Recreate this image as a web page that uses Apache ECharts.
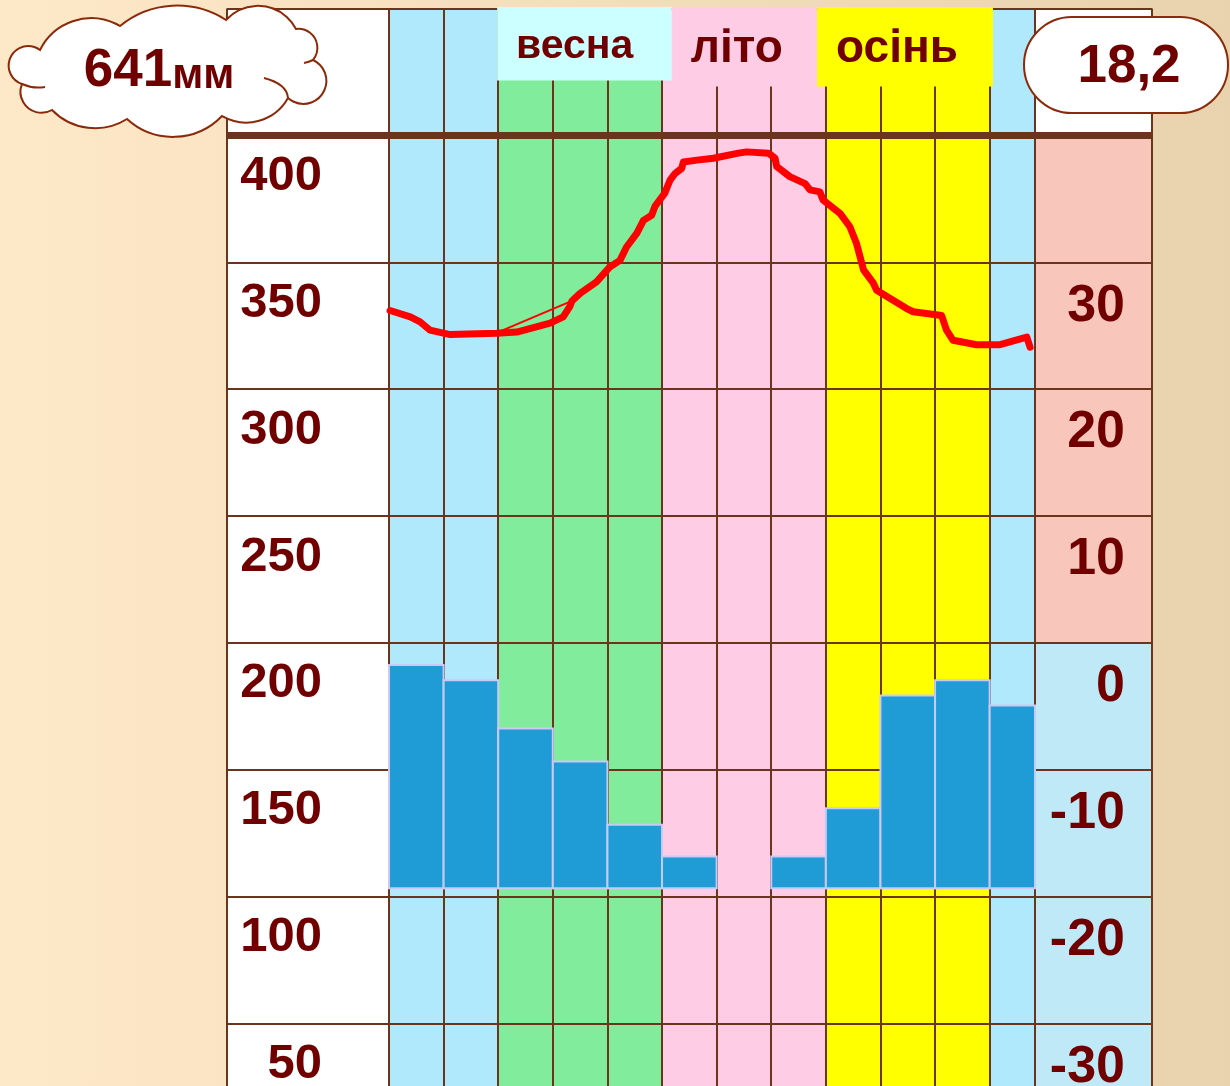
<!DOCTYPE html>
<html>
<head>
<meta charset="utf-8">
<script src="https://cdn.jsdelivr.net/npm/echarts@6/dist/echarts.min.js"></script>
<style>
html, body { margin: 0; padding: 0; }
#chart { width: 1230px; height: 1086px; }
</style>
</head>
<body>
<div id="chart"></div>
<script>
// ---- data ----
var months = ['січ', 'лют', 'бер', 'кві', 'тра', 'чер', 'лип', 'сер', 'вер', 'жов', 'лис', 'гру'];
// monthly precipitation, mm (bars)
var precipitation = [88, 82, 63, 50, 25, 12.5, 0, 12.5, 31.5, 76, 82, 72];
// hand drawn temperature curve: [position in months, degrees]
var tempCurve = [
    [0.02, 26.2], [0.39, 25.7], [0.57, 25.3], [0.75, 24.65], [1.12, 24.3],
    [1.97, 24.4], [2.34, 24.5], [2.95, 25.2], [3.19, 25.7], [3.31, 26.5],
    [3.35, 26.95], [3.5, 27.55], [3.8, 28.45], [4.05, 29.65], [4.23, 30.15],
    [4.35, 31.2], [4.54, 32.3], [4.66, 33.3], [4.81, 33.7], [4.87, 34.4],
    [5.05, 35.45], [5.15, 36.5], [5.24, 37.0], [5.36, 37.4], [5.39, 37.9],
    [5.64, 38.05], [5.94, 38.2], [6.4, 38.6], [6.55, 38.7], [6.95, 38.6],
    [7.07, 38.2], [7.1, 37.55], [7.34, 36.75], [7.62, 36.2], [7.71, 35.7],
    [7.89, 35.55], [7.95, 34.9], [8.26, 33.85], [8.44, 32.8], [8.56, 31.5],
    [8.69, 29.4], [8.87, 28.35], [8.93, 27.8], [9.48, 26.35], [9.6, 26.1],
    [10.12, 25.8], [10.21, 24.65], [10.33, 23.85], [10.76, 23.5], [11.19, 23.5],
    [11.68, 24.1], [11.74, 23.3]
];
var tempChord = [[1.98, 24.45], [3.35, 26.95]];
var precipLabels = [400, 350, 300, 250, 200, 150, 100, 50];
var tempLabels = [30, 20, 10, 0, -10, -20, -30];
var headerLine = 400;
var seasons = ['весна', 'літо', 'осінь'];
var seasonFrom = [1.98, 5.18, 7.84];
var seasonTo = [5.18, 7.84, 11.06];
var annualPrecip = '641';
var annualUnit = 'мм';
var annualTemp = '18,2';

// ---- styles ----
var BROWN = '#6b341c';
var TEXT = '#700000';
var FONT = '"Liberation Sans", Arial, sans-serif';
var MONTH_MAX = 11.83; // december column is narrower
var monthColors = ['#b0e9fc', '#b0e9fc', '#80ec9c', '#80ec9c', '#80ec9c', '#ffcce6',
    '#ffcce6', '#ffcce6', '#ffff00', '#ffff00', '#ffff00', '#b0e9fc'];
var rightColors = ['#bfe9f6', '#bfe9f6', '#bfe9f6', '#bfe9f6', '#f9c6bc', '#f9c6bc',
    '#f9c6bc', '#f9c6bc', '#ffffff'];
var seasonColors = ['#ccffff', '#ffcce6', '#ffff00'];
var seasonBoxH = [72, 78, 78];
var seasonFont = [41, 46, 46];

var CLOUD = 'M40 50 A57 57 0 0 1 120 26 A90 90 0 0 1 226 20 A43 43 0 0 1 296 29 ' +
    'A19 19 0 0 1 313 60 A23 23 0 1 1 288 98 A48 48 0 0 1 222 116 ' +
    'A68 68 0 0 1 127 119 A60 60 0 0 1 52 110 A21 21 0 0 1 22 84 ' +
    'A19.5 19.5 0 1 1 40 50 Z';
var CREASES = 'M22 84 Q33 89 45 87 M264 78 Q287 84 288 98 M313 60 Q309 62 304 63';

// table rows run past the bottom of the picture
var TOP = 8.5, HEIGHT = 1141.9;

function hiddenAxis(grid, extra) {
    return Object.assign({ gridIndex: grid, type: 'value', show: false }, extra || {});
}

function makeGrid(left, width, top, height, extra) {
    return Object.assign({
        left: left, width: width, top: top, height: height,
        outerBoundsMode: 'none', containLabel: false
    }, extra || {});
}

function renderSeason(params, api) {
    var i = params.dataIndex;
    var p0 = api.coord([api.value(0), 50]);
    var p1 = api.coord([api.value(1), 50]);
    var h = seasonBoxH[i];
    var fs = seasonFont[i];
    return {
        type: 'group',
        children: [{
            type: 'rect',
            shape: { x: p0[0], y: p0[1] - 1.5, width: p1[0] - p0[0], height: h + 1.5 },
            style: { fill: seasonColors[i] }
        }, {
            type: 'text',
            style: {
                text: seasons[i], x: p0[0] + 19, y: p0[1] + h * 0.5 + 2,
                fill: TEXT, font: 'bold ' + fs + 'px ' + FONT,
                align: 'left', verticalAlign: 'middle'
            }
        }]
    };
}

function renderBar(params, api) {
    var i = api.value(0);
    var v = api.value(1);
    if (!v) return null;
    var p0 = api.coord([i, 0]);
    var p1 = api.coord([Math.min(i + 1, MONTH_MAX), v]);
    return {
        type: 'rect',
        shape: { x: p0[0], y: p1[1], width: p1[0] - p0[0], height: p0[1] - p1[1] },
        style: { fill: '#1f9bd5', stroke: '#c9c9f3', lineWidth: 2 }
    };
}

function renderCloud(params, api) {
    return {
        type: 'group',
        children: [{
            type: 'path', shape: { pathData: CLOUD },
            style: { fill: '#ffffff', stroke: '#8b2a0a', lineWidth: 2 }
        }, {
            type: 'path', shape: { pathData: CREASES },
            style: { fill: 'none', stroke: '#8b2a0a', lineWidth: 2 }
        }]
    };
}

var chart = echarts.init(document.getElementById('chart'));
chart.setOption({
    animation: false,
    backgroundColor: {
        type: 'linear', x: 0, y: 0, x2: 1, y2: 0,
        colorStops: [{ offset: 0, color: '#fde8c8' }, { offset: 1, color: '#e9d2ae' }]
    },
    grid: [
        makeGrid(227, 925, TOP, HEIGHT),
        makeGrid(227, 162, TOP, HEIGHT, { show: true, backgroundColor: '#ffffff', borderWidth: 0 }),
        makeGrid(389, 646, TOP, HEIGHT),
        makeGrid(1035, 117, TOP, HEIGHT),
        makeGrid(389, 646, 127, 761.3)
    ],
    xAxis: [
        {
            gridIndex: 0, type: 'value', min: 0, max: 1, interval: 1, z: 1,
            axisLine: { show: false }, axisTick: { show: false }, axisLabel: { show: false },
            splitLine: { show: true, lineStyle: { color: BROWN, width: 2 } }
        },
        hiddenAxis(1, { min: 0, max: 1 }),
        {
            gridIndex: 2, type: 'value', min: 0, max: MONTH_MAX, interval: 1, z: 0,
            axisLine: { show: false }, axisTick: { show: false }, axisLabel: { show: false },
            splitArea: { show: true, areaStyle: { color: monthColors, opacity: 1 } },
            splitLine: { show: true, lineStyle: { color: BROWN, width: 2 } }
        },
        hiddenAxis(3, { min: 0, max: 1 }),
        hiddenAxis(4, { min: 0, max: MONTH_MAX })
    ],
    yAxis: [
        {
            gridIndex: 0, type: 'value', min: 0, max: 450, interval: 50, z: 1,
            axisLine: { show: false }, axisTick: { show: false }, axisLabel: { show: false },
            splitLine: { show: true, lineStyle: { color: BROWN, width: 2 } }
        },
        {
            gridIndex: 2, type: 'value', position: 'left', min: 0, max: 450, interval: 50, z: 2,
            axisLine: { show: false }, axisTick: { show: false }, splitLine: { show: false },
            axisLabel: {
                margin: 67, align: 'right', verticalAlign: 'top', lineHeight: 82,
                color: TEXT, fontSize: 49, fontWeight: 'bold', fontFamily: FONT,
                formatter: function (v) { return precipLabels.indexOf(v) >= 0 ? String(v) : ''; }
            }
        },
        {
            gridIndex: 2, type: 'value', position: 'right', min: -40, max: 50, interval: 10, z: 2,
            axisLine: { show: false }, axisTick: { show: false }, splitLine: { show: false },
            axisLabel: {
                margin: 90, align: 'right', verticalAlign: 'top', lineHeight: 88,
                color: TEXT, fontSize: 52, fontWeight: 'bold', fontFamily: FONT,
                formatter: function (v) { return tempLabels.indexOf(v) >= 0 ? String(v) : ''; }
            }
        },
        {
            gridIndex: 3, type: 'value', min: -40, max: 50, interval: 10, z: 0,
            axisLine: { show: false }, axisTick: { show: false }, axisLabel: { show: false },
            splitLine: { show: false },
            splitArea: { show: true, areaStyle: { color: rightColors, opacity: 1 } }
        },
        hiddenAxis(4, { min: 0, max: 300 }),
        hiddenAxis(1, { min: 0, max: 1 })
    ],
    series: [
        {
            name: 'header', type: 'line', xAxisIndex: 0, yAxisIndex: 0, z: 5, silent: true,
            symbol: 'none', data: [[0, headerLine], [1, headerLine]],
            lineStyle: { color: BROWN, width: 7 }
        },
        {
            name: 'seasons', type: 'custom', xAxisIndex: 2, yAxisIndex: 2, z: 3, silent: true,
            renderItem: renderSeason,
            data: seasons.map(function (s, i) { return [seasonFrom[i], seasonTo[i]]; })
        },
        {
            name: 'опади', type: 'custom', xAxisIndex: 4, yAxisIndex: 4, z: 4, silent: true,
            renderItem: renderBar,
            data: precipitation.map(function (v, i) { return [i, v]; })
        },
        {
            name: 'температура', type: 'line', xAxisIndex: 2, yAxisIndex: 2, z: 6, silent: true,
            symbol: 'none', data: tempCurve,
            lineStyle: { color: '#ff0000', width: 7, cap: 'round', join: 'round' }
        },
        {
            name: 'chord', type: 'line', xAxisIndex: 2, yAxisIndex: 2, z: 6, silent: true,
            symbol: 'none', data: tempChord,
            lineStyle: { color: '#ff0000', width: 2 }
        },
        {
            name: 'cloud', type: 'custom', coordinateSystem: 'none', z: 20, silent: true,
            renderItem: renderCloud, data: [0]
        }
    ],
    graphic: {
        elements: [
            {
                type: 'text', z: 22, x: 159, y: 71,
                style: {
                    text: '{n|' + annualPrecip + '}{u|' + annualUnit + '}',
                    align: 'center', verticalAlign: 'middle', fill: TEXT,
                    rich: {
                        n: { fontSize: 53, fontWeight: 'bold', fontFamily: FONT, fill: TEXT, lineHeight: 53, verticalAlign: 'bottom' },
                        u: { fontSize: 42, fontWeight: 'bold', fontFamily: FONT, fill: TEXT, lineHeight: 42, verticalAlign: 'bottom' }
                    }
                }
            },
            {
                type: 'rect', z: 20,
                shape: { x: 1024, y: 17, width: 204, height: 96, r: 48 },
                style: { fill: '#ffffff', stroke: '#8b2a0a', lineWidth: 2 }
            },
            {
                type: 'text', z: 22, x: 1129, y: 67,
                style: {
                    text: annualTemp, align: 'center', verticalAlign: 'middle',
                    fill: TEXT, font: 'bold 53px ' + FONT
                }
            }
        ]
    }
});
</script>
</body>
</html>
